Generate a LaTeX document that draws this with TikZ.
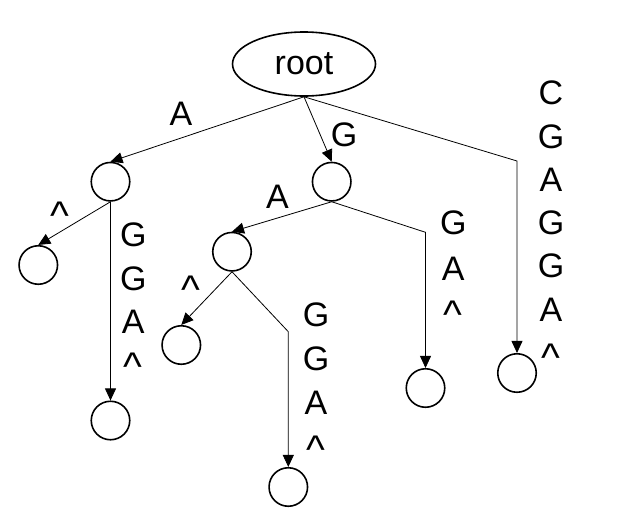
\documentclass[tikz,border=0pt]{standalone}
\usepackage{fontspec}
\setmainfont{Liberation Sans}
\usetikzlibrary{arrows.meta,shapes.geometric}

\tikzset{
  vertex/.style={circle, draw, line width=1.6pt, minimum size=38.5pt, inner sep=0pt},
  rootnode/.style={ellipse, draw, line width=1.6pt, minimum width=143pt, minimum height=64pt, inner sep=0pt,
    font=\fontsize{34}{40}\selectfont},
  edge/.style={line width=0.8pt, -{Triangle[length=12pt,width=11pt]}},
  lbl/.style={font=\fontsize{34}{40}\selectfont, inner sep=0pt, anchor=base},
  caret/.style={lbl, font=\fontsize{40}{46}\selectfont},
}

\begin{document}
\begin{tikzpicture}[x=1pt,y=-1pt]
  \fill[white] (0,0) rectangle (620,525);
  \useasboundingbox (0,0) rectangle (620,525);

  % trie nodes
  \node[rootnode] (root) at (304,64) {root};
  \node[vertex] (n1) at (110.5,181.7) {};
  \node[vertex] (n2) at (331.7,181.7) {};
  \node[vertex] (n3) at (38.3,265) {};
  \node[vertex] (n4) at (110.5,420.5) {};
  \node[vertex] (n5) at (232,251.7) {};
  \node[vertex] (n6) at (181.3,345) {};
  \node[vertex] (n7) at (288.3,487) {};
  \node[vertex] (n8) at (425.5,388) {};
  \node[vertex] (n9) at (517,373) {};

  % bend points of the compressed paths
  \coordinate (b1) at (517,161);
  \coordinate (b2) at (425.5,232.3);
  \coordinate (b3) at (288.3,331.7);

  % edges
  \draw[edge] (root.south) -- (n1.north);
  \draw[edge] (root.south) -- (n2.north);
  \draw[edge] (root.south) -- (b1) -- (n9.north);
  \draw[edge] (n1.south) -- (n3.north);
  \draw[edge] (n1.south) -- (n4.north);
  \draw[edge] (n2.south) -- (n5.north);
  \draw[edge] (n2.south) -- (b2) -- (n8.north);
  \draw[edge] (n5.south) -- (n6.north);
  \draw[edge] (n5.south) -- (b3) -- (n7.north);

  % single edge labels
  \node[lbl] (la) at (181,125) {A};
  \node[lbl] (lg) at (344,146) {G};
  \node[lbl] (lga) at (277.5,208) {A};
  \node[caret] (lc1) at (60,229.3) {\textasciicircum};
  \node[caret] (lc2) at (191,303.6) {\textasciicircum};

  % path labels, one letter per line
  \foreach \c/\y [count=\i] in {G/246.5, G/290, A/333}
    \node[lbl] (pa\i) at (133.3,\y) {\c};
  \node[caret] (pa4) at (133.3,380.3) {\textasciicircum};
  \foreach \c/\y [count=\i] in {G/234.5, A/280}
    \node[lbl] (pb\i) at (453.3,\y) {\c};
  \node[caret] (pb3) at (453.3,328.6) {\textasciicircum};
  \foreach \c/\y [count=\i] in {G/326.5, G/370, A/414}
    \node[lbl] (pc\i) at (316,\y) {\c};
  \node[caret] (pc4) at (316,463.6) {\textasciicircum};
  \foreach \c/\y [count=\i] in {C/104.5, G/148, A/191.5, G/234.5, G/277.5, A/321.5}
    \node[lbl] (pd\i) at (551,\y) {\c};
  \node[caret] (pd7) at (551,371.3) {\textasciicircum};
\end{tikzpicture}
\end{document}
